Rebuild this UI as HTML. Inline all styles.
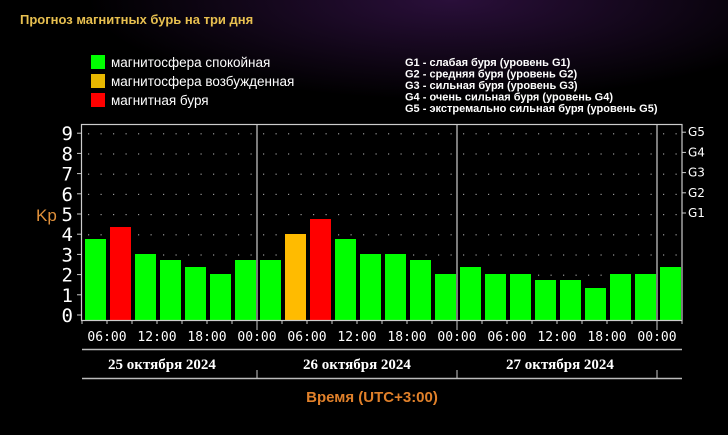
<!DOCTYPE html>
<html><head><meta charset="utf-8"><style>
html,body{margin:0;padding:0;background:#000;}
svg{display:block}
</style></head><body>
<svg id="s" width="728" height="435" xmlns="http://www.w3.org/2000/svg" font-family="Liberation Sans, sans-serif">
<defs><radialGradient id="g" cx="0.62" cy="0" r="0.5"><stop offset="0" stop-color="#2a0f3a"/><stop offset="1" stop-color="#000"/></radialGradient></defs>
<rect width="728" height="435" fill="#000"/>
<rect width="728" height="200" fill="url(#g)"/>
<text x="20" y="24" fill="#e8c050" font-size="13" font-weight="bold">Прогноз магнитных бурь на три дня</text>
<rect x="91" y="55" width="14" height="14" fill="#00ff00"/>
<rect x="91" y="74" width="14" height="14" fill="#e8b800"/>
<rect x="91" y="93" width="14" height="14" fill="#ff0000"/>
<g fill="#fff" font-size="13.5"><text x="111" y="67">магнитосфера спокойная</text><text x="111" y="86">магнитосфера возбужденная</text><text x="111" y="105">магнитная буря</text></g>
<g fill="#fff" font-size="11" font-weight="bold"><text x="405" y="66">G1 - слабая буря (уровень G1)</text><text x="405" y="77.5">G2 - средняя буря (уровень G2)</text><text x="405" y="89">G3 - сильная буря (уровень G3)</text><text x="405" y="100.5">G4 - очень сильная буря (уровень G4)</text><text x="405" y="112">G5 - экстремально сильная буря (уровень G5)</text></g>
<g id="plot"></g>
<text x="36" y="221" fill="#e0903a" font-size="17">Kp</text>
<text x="372" y="402" fill="#e0802a" font-size="15" font-weight="bold" text-anchor="middle">Время (UTC+3:00)</text>
</svg>
<script>
var p=document.getElementById('plot'),h='';
var tops=[239,227,254,260,267,274,260,260,234,219,239,254,254,260,274,267,274,274,280,280,288,274,274,267];
for(var v=1;v<=9;v++){var y=315-v*20.2;for(var x=88;x<680;x+=12.5)h+='<rect x="'+x+'" y="'+y+'" width="1.2" height="1.2" fill="#999"/>';}
tops.forEach(function(t,i){var x=82+i*25+3;var c='#00ff00';if(i==1||i==9)c='#ff0000';if(i==8)c='#ffbb00';h+='<rect x="'+x+'" y="'+t+'" width="21" height="'+(320-t)+'" fill="'+c+'"/>';});
h+='<rect x="81.5" y="124.5" width="600.5" height="196" fill="none" stroke="#ccc" stroke-width="1.2"/>';
[257,457,657].forEach(function(x){h+='<line x1="'+x+'" y1="124" x2="'+x+'" y2="320" stroke="#ccc" stroke-width="1.2"/>';h+='<line x1="'+x+'" y1="322" x2="'+x+'" y2="330" stroke="#ccc"/><line x1="'+x+'" y1="370" x2="'+x+'" y2="378" stroke="#ccc"/>';});
for(var i=0;i<25;i++){var x=82+i*25;h+='<line x1="'+x+'" y1="320" x2="'+x+'" y2="324" stroke="#ccc"/>';}
for(var v=0;v<=9;v++){var y=315-v*20.2;h+='<text x="73" y="'+(y+7)+'" fill="#fff" font-size="19" text-anchor="end" font-family="DejaVu Sans Mono, monospace">'+v+'</text><line x1="77" y1="'+y+'" x2="81" y2="'+y+'" stroke="#ccc"/>';}
['G1','G2','G3','G4','G5'].forEach(function(g,k){var y=213-k*20.2;h+='<text x="688" y="'+(y+4)+'" fill="#fff" font-size="12" font-family="DejaVu Sans, sans-serif">'+g+'</text><line x1="682" y1="'+y+'" x2="686" y2="'+y+'" stroke="#ccc"/>';});
var lab=['06:00','12:00','18:00','00:00'];
for(var i=0;i<12;i++){var x=107+i*50;h+='<text x="'+x+'" y="341" fill="#fff" font-size="13" text-anchor="middle" font-family="DejaVu Sans Mono, monospace">'+lab[i%4]+'</text>';}
h+='<line x1="82" y1="349.5" x2="682" y2="349.5" stroke="#bbb" stroke-width="1.5"/><line x1="82" y1="378.5" x2="682" y2="378.5" stroke="#bbb" stroke-width="1.5"/>';
[['25',162],['26',357],['27',560]].forEach(function(d){h+='<text x="'+d[1]+'" y="369" fill="#fff" font-size="15" font-weight="bold" text-anchor="middle" font-family="Liberation Serif, serif">'+d[0]+' октября 2024</text>';});
p.innerHTML=h;
</script>
</body></html>
